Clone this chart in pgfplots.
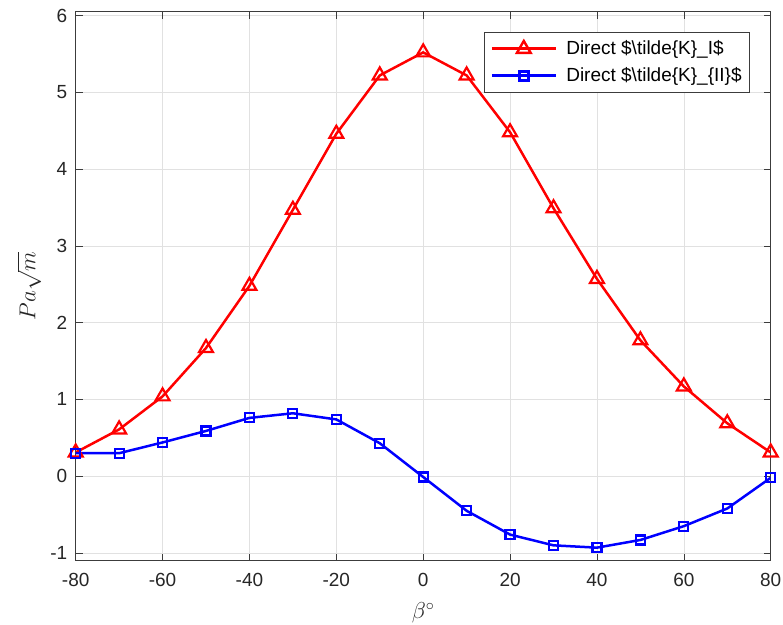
\documentclass[border=0pt]{standalone}
\usepackage{fix-cm}
\usepackage{fontspec}
\setmainfont{Liberation Sans}
\usepackage{pgfplots}
\pgfplotsset{compat=1.18}
\definecolor{axgray}{RGB}{60,60,60}
\definecolor{gridgray}{RGB}{225,225,225}
\begin{document}
\fontsize{19}{23}\selectfont
\begin{tikzpicture}
\begin{axis}[
  scale only axis, width=695pt, height=549pt,
  xmin=-80, xmax=80, ymin=-1.1, ymax=6.05,
  xtick={-80,-60,...,80}, xticklabels={-80,-60,-40,-20,0,20,40,60,80},
  ytick={-1,0,...,6}, yticklabels={-1,0,1,2,3,4,5,6},
  tick align=inside, major tick length=7pt,
  tick style={axgray, line width=0.6pt},
  axis line style={axgray, line width=0.8pt},
  grid=major, grid style={gridgray, line width=0.6pt},
  ticklabel style={font=\fontsize{19}{23}\selectfont, text=black!85},
  xticklabel style={yshift=-6pt},
  yticklabel style={xshift=-2pt},
  xlabel={$\beta^\circ$}, ylabel={$Pa\sqrt{m}$},
  label style={font=\fontsize{23}{27}\selectfont, text=black!85, inner sep=1pt},
  xlabel style={at={(axis description cs:0.5,-0.095)}, anchor=center},
  ylabel style={at={(axis description cs:-0.067,0.5)}, anchor=center},
  legend style={at={(0.970,0.9625)}, anchor=north east, draw=axgray,
    fill=white, font=\fontsize{19}{23}\selectfont, inner xsep=6pt, inner ysep=6pt,
    row sep=6pt},
  legend cell align=left,
  legend image code/.code={\draw[line width=3pt, mark options={solid, line width=2.4pt}, mark repeat=2, mark phase=2] plot coordinates {(0pt,0pt) (32pt,0pt) (64pt,0pt)};},
]
\addplot[red, line width=2.5pt, mark=triangle, mark size=8pt, mark options={solid, line width=2.2pt}] coordinates {
(-80,0.31) (-70,0.61) (-60,1.04) (-50,1.67) (-40,2.48) (-30,3.47) (-20,4.46) (-10,5.22)
(0,5.52) (10,5.22) (20,4.48) (30,3.49) (40,2.57) (50,1.77) (60,1.17) (70,0.69) (80,0.31)};
\addlegendentry{\hspace*{7pt}Direct \$\textbackslash tilde\{K\}\_I\$}
\addplot[blue, line width=2.5pt, mark=square, mark size=4.5pt, mark options={solid, line width=2.2pt}] coordinates {
(-80,0.30) (-70,0.30) (-60,0.44) (-50,0.59) (-40,0.76) (-30,0.82) (-20,0.74) (-10,0.43)
(0,-0.01) (10,-0.45) (20,-0.76) (30,-0.90) (40,-0.93) (50,-0.83) (60,-0.65) (70,-0.42) (80,-0.02)};
\addlegendentry{\hspace*{7pt}Direct \$\textbackslash tilde\{K\}\_\{II\}\$}
\end{axis}
\pgfresetboundingbox
\path (current axis.south west) ++(-75.7pt,-63.3pt) rectangle ++(783pt,624pt);
\end{tikzpicture}
\end{document}
